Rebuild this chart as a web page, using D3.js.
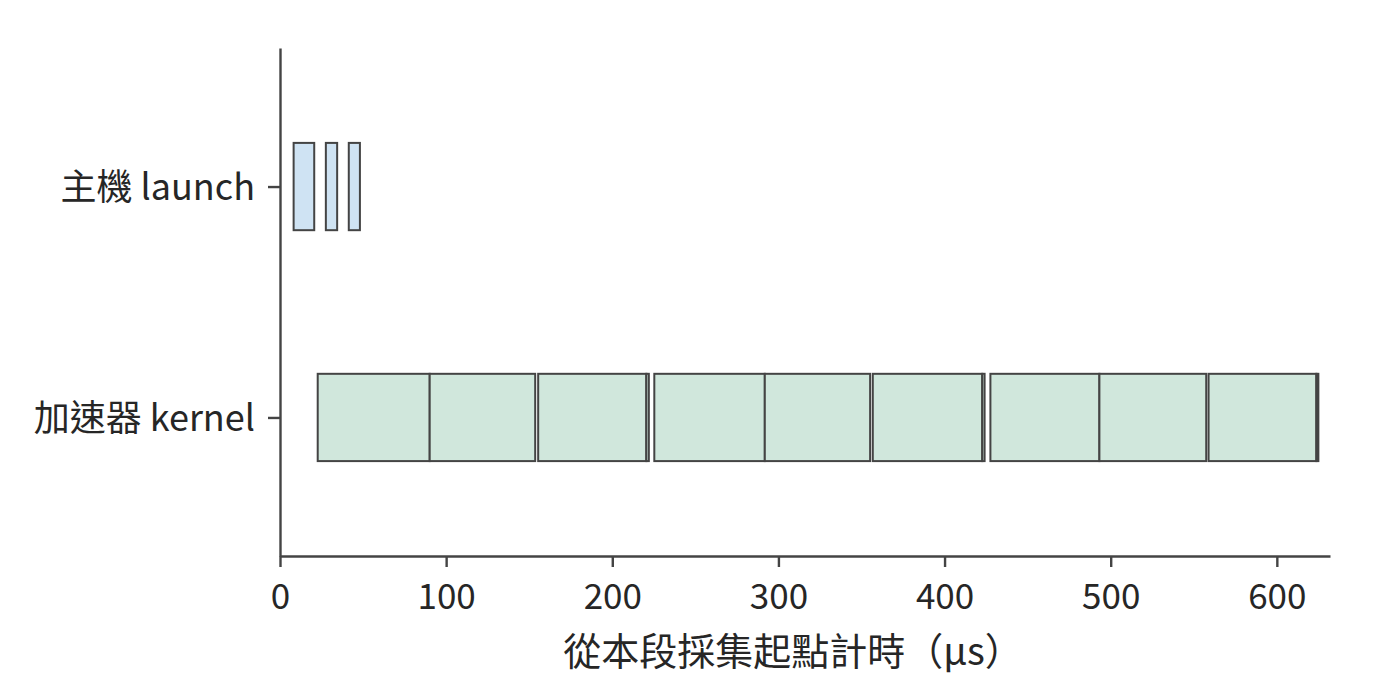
<!DOCTYPE html>
<html>
<head>
<meta charset="utf-8">
<script src="https://cdn.jsdelivr.net/npm/d3@7"></script>
<style>
  body { margin: 0; background: #fff; }
  text { font-family: "Noto Sans CJK TC", "Noto Sans", sans-serif; fill: #262626; }
</style>
</head>
<body>
<svg id="chart"></svg>
<script>
const width = 1400
const height = 696

// rows (top to bottom)
const rows = ["主機 launch", "加速器 kernel"]

// host launch spans (µs)
const launchStart = [8.2, 27.6, 41.4]
const launchEnd = [20.6, 34.4, 48.1]

// accelerator kernel spans (µs)
const kernelStart = [22.7, 90.1, 155.4, 220.5, 225.3, 291.8, 356.8, 422.7, 427.6, 493.2, 558.9, 623.8]
const kernelEnd = [90.1, 153.6, 220.5, 222.0, 291.8, 355.2, 422.7, 424.1, 493.2, 557.5, 623.8, 625.0]

const xTicks = [0, 100, 200, 300, 400, 500, 600]
const xLabel = "從本段採集起點計時（µs）"

const margin = { left: 280, right: 70, top: 48, bottom: 140 }

const x = d3.scaleLinear()
    .domain([0, 632])
    .range([margin.left, width - margin.right])

const y = d3.scalePoint()
    .domain(rows)
    .range([margin.top, height - margin.bottom])
    .padding(0.6)

const barH = y.step() * 0.378

const spans = [
    ...launchStart.map((s, i) => ({ row: rows[0], s, e: launchEnd[i], fill: "#cfe3f3" })),
    ...kernelStart.map((s, i) => ({ row: rows[1], s, e: kernelEnd[i], fill: "#d0e7dc" }))
]

const svg = d3.select("#chart")
    .attr("width", width)
    .attr("height", height)

svg.append("g")
    .selectAll("rect")
    .data(spans)
    .enter()
    .append("rect")
    .attr("x", d => x(d.s))
    .attr("y", d => y(d.row) - barH / 2)
    .attr("width", d => x(d.e) - x(d.s))
    .attr("height", barH)
    .attr("fill", d => d.fill)
    .attr("stroke", "#444")
    .attr("stroke-width", 2)

// x axis
const xAxis = svg.append("g")
    .attr("transform", `translate(0,${height - margin.bottom})`)
    .call(d3.axisBottom(x).tickValues(xTicks).tickSizeInner(11).tickSizeOuter(0).tickPadding(17))
xAxis.select(".domain").attr("stroke", "#444").attr("stroke-width", 2.4)
xAxis.selectAll(".tick line").attr("stroke", "#444").attr("stroke-width", 2.4)
xAxis.selectAll(".tick text")
    .style("font-size", "35px")
    .attr("fill", "#262626")

// y axis
const yAxis = svg.append("g")
    .attr("transform", `translate(${margin.left},0)`)
    .call(d3.axisLeft(y).tickSizeInner(12).tickSizeOuter(0).tickPadding(13))
yAxis.select(".domain").attr("stroke", "#444").attr("stroke-width", 2.4)
yAxis.selectAll(".tick line").attr("stroke", "#444").attr("stroke-width", 2.4)
yAxis.selectAll(".tick text")
    .style("font-size", "36px")
    .attr("dy", "0.37em")
    .attr("fill", "#262626")

svg.append("text")
    .attr("x", (x.range()[0] + x.range()[1]) / 2 - 12)
    .attr("y", 665)
    .attr("text-anchor", "middle")
    .style("font-size", "38px")
    .text(xLabel)
</script>
</body>
</html>
